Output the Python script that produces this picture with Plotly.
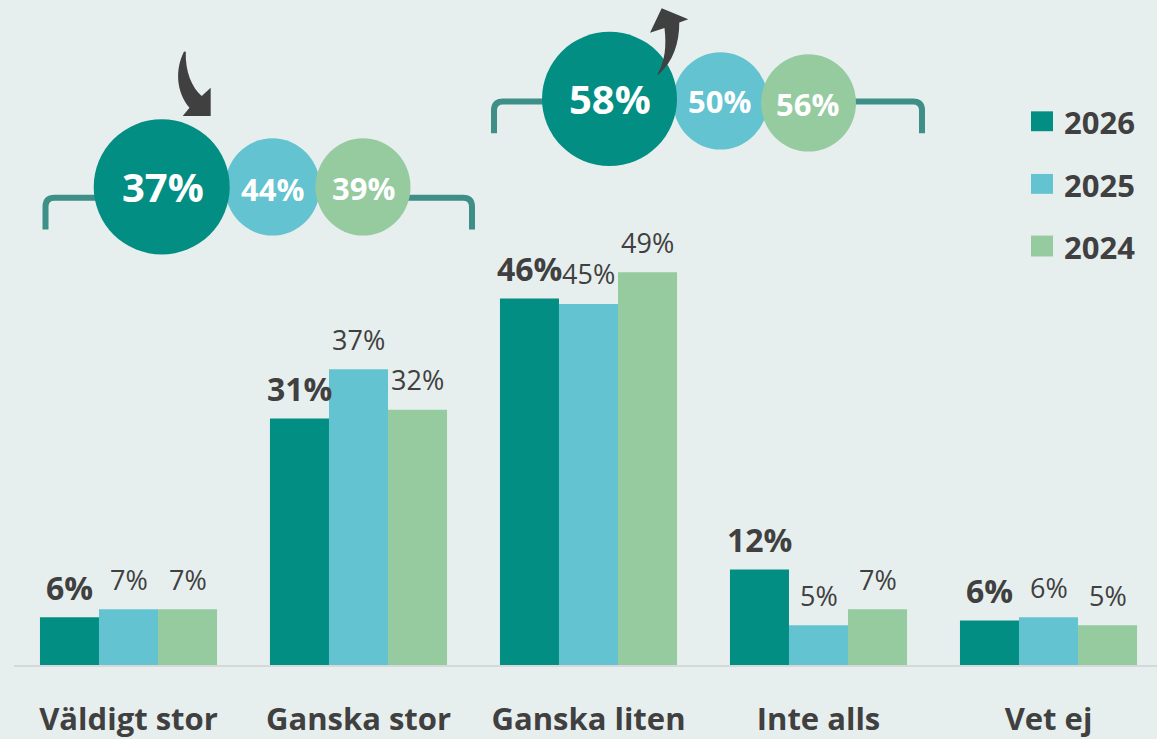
import plotly.graph_objects as go

# ---------------- data ----------------
categories = ["Väldigt stor", "Ganska stor", "Ganska liten", "Inte alls", "Vet ej"]
series_names = ["2026", "2025", "2024"]
values_2026 = [6.0, 31.0, 46.1, 12.0, 5.6]
values_2025 = [7.0, 37.2, 45.4, 5.0, 6.0]
values_2024 = [7.0, 32.1, 49.4, 7.0, 5.0]
bubble_stor = [37, 44, 39]    # Väldigt stor + Ganska stor (2026, 2025, 2024)
bubble_liten = [58, 50, 56]   # Ganska liten + Inte alls (2026, 2025, 2024)

colors = ["#038e84", "#63c3d0", "#95cb9f"]
text_color = "#404040"
bg = "#e7efee"
bracket_color = "#3d8f88"
FONT = "Open Sans"

W = 1157          # figure width  (plot area spans full width)
H = 669           # plot-area height in px (top margin 0)
FIG_H = 739

def px(x):
    return x / W

def py(y):
    return (H - y) / H

def pt(x, y):
    return f"{px(x):.5f},{py(y):.5f}"

series = [values_2026, values_2025, values_2024]

fig = go.Figure()
for name, vals, c in zip(series_names, series, colors):
    fig.add_trace(go.Bar(x=categories, y=vals, name=name, marker_color=c,
                         marker_line_width=0, showlegend=False, hoverinfo="x+y+name"))

annotations = []
# value labels
bar_w = 0.77 / 3
for j, vals in enumerate(series):
    off = (j - 1) * bar_w
    for i, v in enumerate(vals):
        annotations.append(dict(
            x=i + off, y=v, xref="x", yref="y", text=f"{round(v)}%",
            showarrow=False, yshift=30, yanchor="middle", xanchor="center",
            font=dict(family=FONT, size=32 if j == 0 else 27, color=text_color,
                      weight="bold" if j == 0 else "normal")))

shapes = []
# baseline
shapes.append(dict(type="line", xref="paper", yref="paper", x0=px(14), x1=px(1157),
                   y0=py(670), y1=py(670), line=dict(color="#d5d9d9", width=2), layer="below"))

# brackets
def bracket(xl, xr, ytop, ybot, r=9):
    path = (f"M {pt(xl, ybot)} L {pt(xl, ytop + r)} Q {pt(xl, ytop)} {pt(xl + r, ytop)} "
            f"L {pt(xr - r, ytop)} Q {pt(xr, ytop)} {pt(xr, ytop + r)} L {pt(xr, ybot)}")
    return dict(type="path", xref="paper", yref="paper", path=path,
                line=dict(color=bracket_color, width=6), fillcolor="rgba(0,0,0,0)")

shapes.append(bracket(45.5, 472, 199, 231))
shapes.append(bracket(494, 922, 102, 134))

# bubbles
def circle(cx, cy, rx, ry, color):
    return dict(type="circle", xref="paper", yref="paper",
                x0=px(cx - rx), x1=px(cx + rx), y0=py(cy + ry), y1=py(cy - ry),
                fillcolor=color, line=dict(width=0))

bubble_groups = [
    (bubble_stor, [(161.7, 188, 68, 68), (272.5, 188, 47.5, 49), (363, 188, 47.5, 49)],
     [(163, 188), (272, 190), (363, 189)]),
    (bubble_liten, [(609.5, 99.5, 67.5, 67.5), (720.5, 101.5, 47.5, 49), (808.5, 103.5, 47.5, 49)],
     [(610, 99), (719, 102), (807, 105)]),
]
for vals, circ, tpos in bubble_groups:
    # draw 2025, 2024 then 2026 on top
    for k in [1, 2, 0]:
        cx, cy, rx, ry = circ[k]
        shapes.append(circle(cx, cy, rx, ry, colors[k]))
    for k in range(3):
        tx, ty = tpos[k]
        annotations.append(dict(
            x=px(tx), y=py(ty), xref="paper", yref="paper", text=f"{vals[k]}%",
            showarrow=False, xanchor="center", yanchor="middle",
            font=dict(family=FONT, size=40 if k == 0 else 31, color="white", weight="bold")))

# curved arrows
arrow_down = (f"M {pt(184, 51.7)} C {pt(175, 70)} {pt(176, 92)} {pt(189.5, 108.5)} "
              f"L {pt(182.7, 116.7)} L {pt(210.7, 116.7)} L {pt(210.7, 88.3)} L {pt(201.7, 96.7)} "
              f"C {pt(192, 88)} {pt(185, 72)} {pt(185.8, 52)} Z")
arrow_up = (f"M {pt(657.3, 75)} C {pt(665, 61.7)} {pt(666.7, 46.7)} {pt(664.5, 28.2)} "
            f"L {pt(650, 33)} L {pt(661.7, 8.3)} L {pt(688.3, 19.3)} L {pt(679.3, 22.7)} "
            f"C {pt(679.3, 43.3)} {pt(673.3, 61.7)} {pt(658.6, 75)} Z")
for p in (arrow_down, arrow_up):
    shapes.append(dict(type="path", xref="paper", yref="paper", path=p,
                       fillcolor="#404040", line=dict(width=0)))

# custom legend
legend_rows = [(112, 132, 123), (175, 195, 186), (237, 258, 248)]
for (y0, y1, yc), name, c in zip(legend_rows, series_names, colors):
    shapes.append(dict(type="rect", xref="paper", yref="paper",
                       x0=px(1031), x1=px(1053), y0=py(y1), y1=py(y0),
                       fillcolor=c, line=dict(width=0)))
    annotations.append(dict(x=px(1062), y=py(yc), xref="paper", yref="paper", text=name,
                            showarrow=False, xanchor="left", yanchor="middle",
                            font=dict(family=FONT, size=31, color=text_color, weight="bold")))

fig.update_layout(
    width=W, height=FIG_H,
    margin=dict(l=0, r=0, t=0, b=FIG_H - H, pad=0),
    paper_bgcolor=bg, plot_bgcolor=bg,
    barmode="group", bargap=0.23, bargroupgap=0,
    font=dict(family=FONT, color=text_color),
    xaxis=dict(range=[-0.5587, 4.4717], showgrid=False, zeroline=False, showline=False,
               ticks="", ticklabelstandoff=33,
               tickfont=dict(family=FONT, size=31, color=text_color, weight="bold")),
    yaxis=dict(range=[0, H / 8], visible=False, showgrid=False, zeroline=False),
    shapes=shapes, annotations=annotations,
)

fig.write_html("out.html", config={"displayModeBar": False},
               post_script="document.body.style.margin='0';document.body.style.overflow='hidden';"
                           "document.body.style.background='" + bg + "';")
